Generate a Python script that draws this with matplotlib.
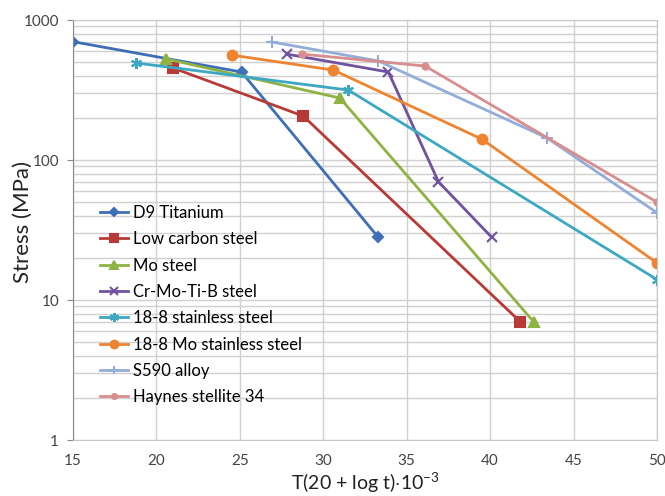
import numpy as np
import matplotlib
matplotlib.use("Agg")
import matplotlib.pyplot as plt
from matplotlib.ticker import LogLocator, FixedLocator, NullFormatter

plt.rcParams['font.family'] = ['Lato', 'DejaVu Sans']
plt.rcParams['mathtext.fontset'] = 'custom'
plt.rcParams['mathtext.rm'] = 'Lato'

# data
names = ["D9 Titanium", "Low carbon steel", "Mo steel", "Cr-Mo-Ti-B steel",
         "18-8 stainless steel", "18-8 Mo stainless steel", "S590 alloy",
         "Haynes stellite 34"]
d9_x = [15, 25.1, 33.3]
d9_y = [700, 425, 28]
lcs_x = [21, 28.8, 41.8]
lcs_y = [454, 206, 7]
mo_x = [20.6, 31, 42.6]
mo_y = [527, 277, 7]
cr_x = [27.8, 33.9, 36.9, 40.1]
cr_y = [571, 425, 70, 28]
ss_x = [18.8, 31.5, 50]
ss_y = [493, 316, 14]
moss_x = [24.5, 30.6, 39.5, 50]
moss_y = [562, 439, 141, 18.4]
s590_x = [26.9, 33.3, 43.4, 50]
s590_y = [697, 510, 144, 42]
hay_x = [28.7, 36.1, 50]
hay_y = [571, 469, 50]

xs = [d9_x, lcs_x, mo_x, cr_x, ss_x, moss_x, s590_x, hay_x]
ys = [d9_y, lcs_y, mo_y, cr_y, ss_y, moss_y, s590_y, hay_y]
colors = ["#3E6FB6", "#B83A37", "#8DB443", "#7052A0", "#3CA8C4", "#EE8430",
          "#93ADDA", "#D98E8E"]
markers = ["D", "s", "^", "x", (6, 2, 0), "o", "+", "o"]
msizes = [5.5, 6.5, 7, 7, 8, 7, 8, 4.5]

fig = plt.figure(figsize=(6.65, 4.96), dpi=100)
ax = fig.add_axes([73/665, 56/496, 584/665, 420/496])

for x, y, c, m, ms, n in zip(xs, ys, colors, markers, msizes, names):
    ax.plot(x, y, color=c, lw=2, marker=m, ms=ms, mew=1.5, label=n)

ax.set_yscale('log')
ax.set_xlim(15, 50)
ax.set_ylim(1, 1000)
ax.xaxis.set_major_locator(FixedLocator(np.arange(15, 51, 5)))
ax.yaxis.set_minor_locator(LogLocator(base=10, subs=np.arange(2, 10)))
ax.yaxis.set_minor_formatter(NullFormatter())
ax.set_yticks([1, 10, 100, 1000])
ax.set_yticklabels(["1", "10", "100", "1000"])
ax.grid(True, which='major', color='#D0D0D0', lw=1)
ax.grid(True, which='minor', axis='y', color='#D0D0D0', lw=1)
ax.set_axisbelow(True)
for s in ax.spines.values():
    s.set_color('#C8C8C8')
ax.spines['left'].set_color('#888888')
ax.tick_params(axis='both', which='both', length=0, labelsize=11, colors='#444444')
ax.tick_params(axis='x', pad=10)
ax.tick_params(axis='y', which='major', length=4, color='#888888', pad=6)

ax.set_xlabel(r"T(20 + log t)$\cdot$10$^{-3}$", fontsize=14, color='#222222')
ax.xaxis.set_label_coords(0.5, -0.072)
ax.set_ylabel("Stress (MPa)", fontsize=16, color='#222222')
ax.yaxis.set_label_coords(-0.068, 0.52)

leg = ax.legend(loc='lower left', bbox_to_anchor=(0.035, 0.067), frameon=False,
                borderaxespad=0, fontsize=12, handlelength=1.7, labelspacing=0.62,
                handletextpad=0.25, markerscale=0.8)

fig.savefig("out.png", dpi=100)
